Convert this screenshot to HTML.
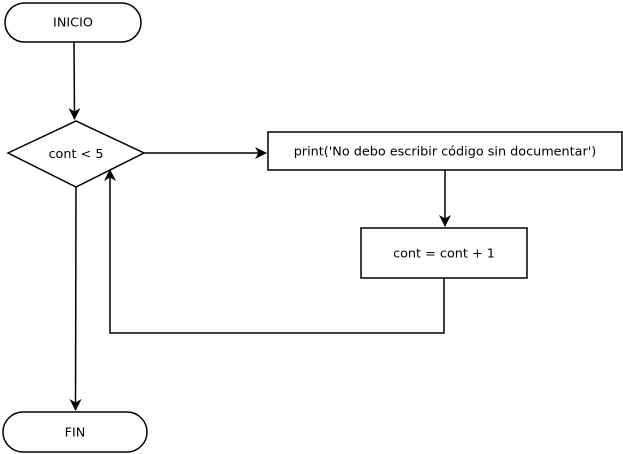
<!DOCTYPE html>
<html><head><style>html,body{margin:0;padding:0;background:#fff}svg{display:block}text{font-family:"DejaVu Sans","Liberation Sans",sans-serif;font-size:12.8px;fill:#000}</style></head>
<body>
<svg width="623" height="454" viewBox="0 0 623 454" xmlns="http://www.w3.org/2000/svg">
<defs><marker id="a" markerWidth="12" markerHeight="12" refX="11" refY="6" orient="auto" markerUnits="userSpaceOnUse"><path d="M0,0 L12,6 L0,12 L3.5,6 z" fill="#000"/></marker></defs>
<g fill="#fff" stroke="#000" stroke-width="1.5">
<rect x="5" y="3" width="136" height="39" rx="19.5"/>
<polygon points="8,153 76,121 144,153 76,187"/>
<rect x="268" y="132" width="354" height="38"/>
<rect x="361" y="228" width="166" height="50"/>
<rect x="3" y="412" width="144" height="40" rx="20"/>
</g>
<g fill="none" stroke="#000" stroke-width="1.5">
<path d="M74,42 L74.5,119" marker-end="url(#a)"/>
<path d="M144,153 L266,153" marker-end="url(#a)"/>
<path d="M445,170 L445,226" marker-end="url(#a)"/>
<path d="M444,278 L444,333 L110,333 L110,170" marker-end="url(#a)"/>
<path d="M76,187 L75.5,410" marker-end="url(#a)"/>
</g>
<g text-anchor="middle">
<text x="73" y="26.5">INICIO</text>
<text x="76" y="158">cont &lt; 5</text>
<text x="445" y="155.5">print('No debo escribir código sin documentar')</text>
<text x="444" y="257.5">cont = cont + 1</text>
<text x="75" y="436.5">FIN</text>
</g>
</svg>
</body></html>
